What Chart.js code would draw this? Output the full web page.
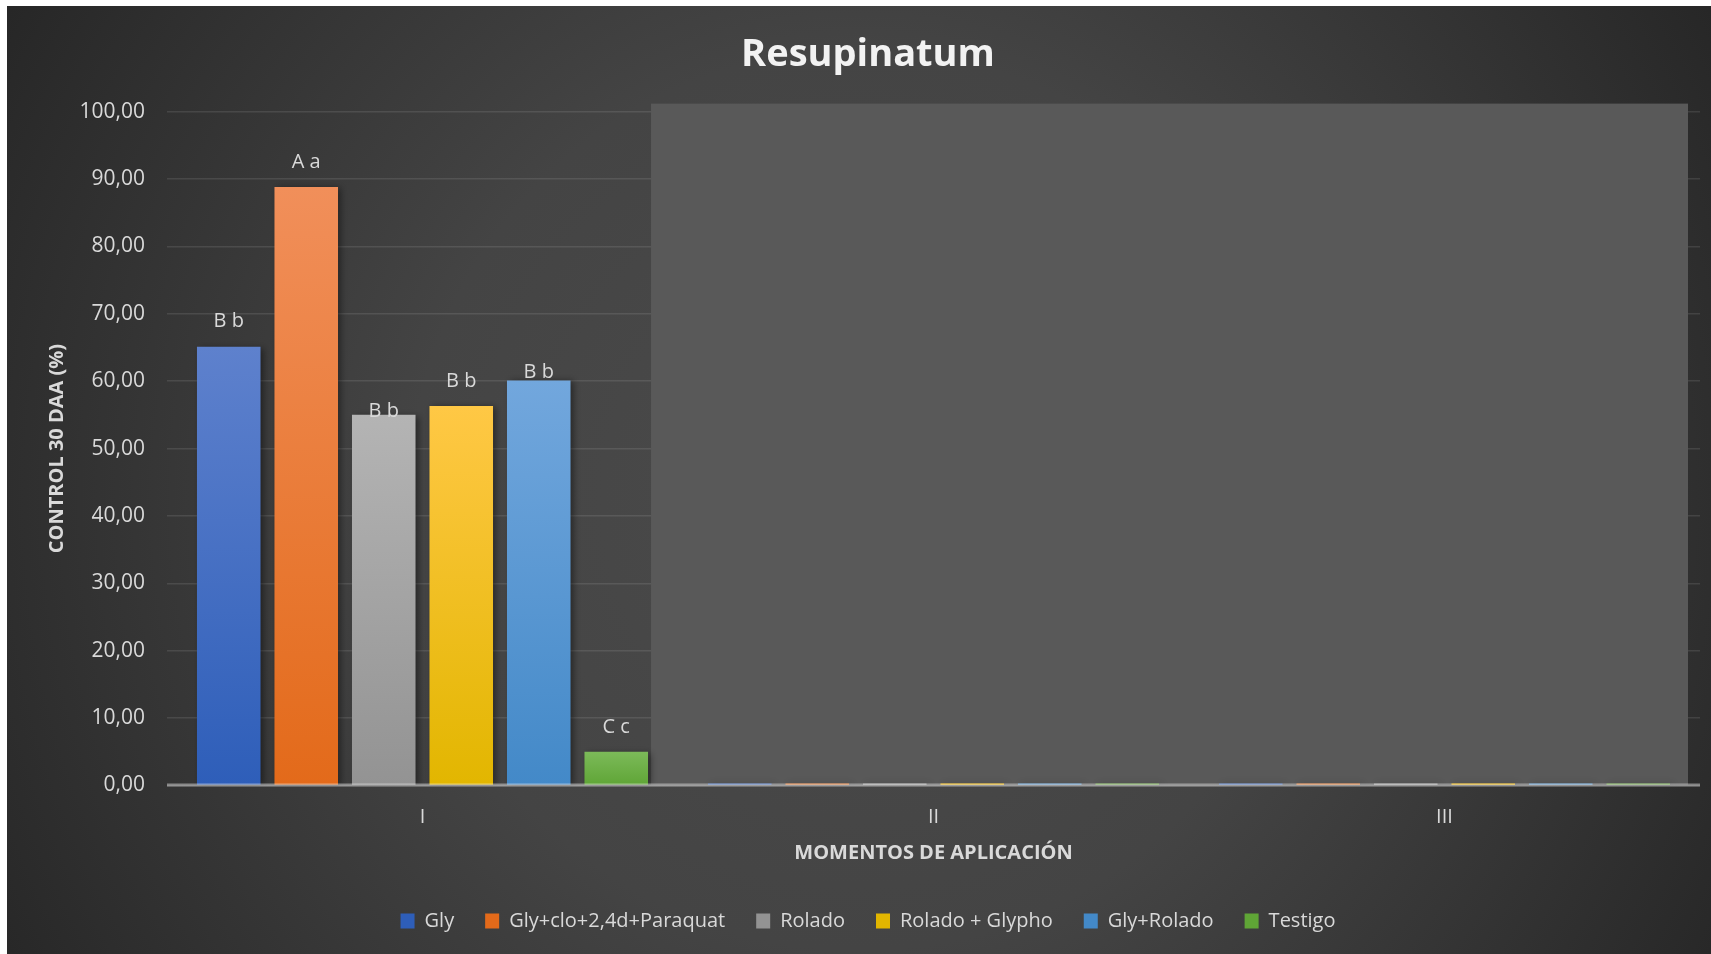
<!DOCTYPE html>
<html>
<head>
<meta charset="utf-8">
<title>Resupinatum</title>
<script src="https://cdn.jsdelivr.net/npm/chart.js@4.4.1/dist/chart.umd.min.js"></script>
<style>
  html, body { margin: 0; padding: 0; background: #ffffff; overflow: hidden; }
  #wrap { width: 1711px; height: 954px; position: relative; }
  canvas { display: block; }
</style>
</head>
<body>
<div id="wrap"><canvas id="chart" width="1711" height="954"></canvas></div>
<script>
// ---- Data ----
const categories = ['I', 'II', 'III'];
const seriesNames = ['Gly', 'Gly+clo+2,4d+Paraquat', 'Rolado', 'Rolado + Glypho', 'Gly+Rolado', 'Testigo'];
const gly            = [65.1, 0, 0];
const glyCloParaquat = [88.8, 0, 0];
const rolado         = [55.0, 0, 0];
const roladoGlypho   = [56.3, 0, 0];
const glyRolado      = [60.1, 0, 0];
const testigo        = [5.0, 0, 0];
const lettersI       = ['B b', 'A a', 'B b', 'B b', 'B b', 'C c'];
const yMin = 0, yMax = 100, yStep = 10;

// ---- Styles ----
const palette = [
  { base: '#4472c4', top: '#5e81cd', bottom: '#2e5eb9' },
  { base: '#ed7d31', top: '#f18f5a', bottom: '#e36a1a' },
  { base: '#a5a5a5', top: '#b4b4b4', bottom: '#939393' },
  { base: '#ffc000', top: '#ffc845', bottom: '#e2b600' },
  { base: '#5b9bd5', top: '#72a7dd', bottom: '#4389c8' },
  { base: '#70ad47', top: '#7cba59', bottom: '#5fa536' }
];
const seriesValues = [gly, glyCloParaquat, rolado, roladoGlypho, glyRolado, testigo];

function barFill(p) {
  return (ctx) => {
    const chart = ctx.chart;
    if (!chart.chartArea || ctx.type !== 'data') return p.base;
    const ys = chart.scales.y;
    const yTop = ys.getPixelForValue(ctx.raw);
    const yBot = ys.getPixelForValue(0);
    if (Math.abs(yBot - yTop) < 4) return p.base;
    const g = chart.ctx.createLinearGradient(0, yTop, 0, yBot);
    g.addColorStop(0, p.top);
    g.addColorStop(1, p.bottom);
    return g;
  };
}

const datasets = seriesNames.map((name, i) => ({
  label: name,
  data: seriesValues[i],
  backgroundColor: barFill(palette[i]),
  borderWidth: 0,
  minBarLength: 2,
  categoryPercentage: 0.91,
  barPercentage: 0.82
}));

const FONT = 'Open Sans';
const TXT = '#d9d9d9';

const backgroundPlugin = {
  id: 'bg',
  beforeDraw(chart) {
    const c = chart.ctx, w = chart.width, h = chart.height;
    c.save();
    c.fillStyle = '#ffffff';
    c.fillRect(0, 0, w, h);
    const g = c.createRadialGradient(860, 500, 0, 860, 500, 1000);
    g.addColorStop(0, '#4b4b4b');
    g.addColorStop(0.45, '#444444');
    g.addColorStop(1, '#262626');
    c.fillStyle = g;
    c.fillRect(7, 6, w - 7, h - 6);
    c.restore();
  }
};

const overlayPlugin = {
  id: 'overlayRect',
  beforeDatasetsDraw(chart) {
    const c = chart.ctx, ys = chart.scales.y;
    const last = chart.getDatasetMeta(datasets.length - 1).data[0];
    const left = last.x + last.width / 2 + 3;
    const right = chart.chartArea.right - 12;
    const top = ys.getPixelForValue(yMax) - 8;
    const bottom = ys.getPixelForValue(0) - 1;
    c.save();
    c.fillStyle = '#595959';
    c.fillRect(left, top, right - left, bottom - top);
    c.restore();
  }
};

const shadowPlugin = {
  id: 'barShadow',
  beforeDatasetDraw(chart) {
    const c = chart.ctx;
    c.save();
    c.shadowColor = 'rgba(0,0,0,0.45)';
    c.shadowBlur = 7;
    c.shadowOffsetX = 3;
    c.shadowOffsetY = 1;
  },
  afterDatasetDraw(chart) {
    chart.ctx.restore();
  }
};

const axisAndLabelsPlugin = {
  id: 'axisAndLabels',
  afterDatasetsDraw(chart, args, opts) {
    const c = chart.ctx, ys = chart.scales.y, area = chart.chartArea;
    const y0 = ys.getPixelForValue(0);
    c.save();
    c.strokeStyle = 'rgba(255,255,255,0.42)';
    c.lineWidth = 3;
    c.beginPath();
    c.moveTo(area.left, y0 - 0.5);
    c.lineTo(area.right, y0 - 0.5);
    c.stroke();
    // data letter labels on category I
    c.fillStyle = TXT;
    c.font = `20px "${FONT}"`;
    c.textAlign = 'center';
    c.textBaseline = 'middle';
    datasets.forEach((ds, i) => {
      const el = chart.getDatasetMeta(i).data[0];
      const nudge = (opts.nudge && opts.nudge[i]) || 0;
      c.fillText(lettersI[i], el.x, el.y - 25 + nudge);
    });
    c.restore();
  }
};

new Chart(document.getElementById('chart'), {
  type: 'bar',
  data: { labels: categories, datasets },
  plugins: [backgroundPlugin, overlayPlugin, shadowPlugin, axisAndLabelsPlugin],
  options: {
    responsive: false,
    animation: false,
    devicePixelRatio: 1,
    layout: { padding: { left: 36, right: 11, top: 0, bottom: 13 } },
    plugins: {
      axisAndLabels: { nudge: { 2: 21, 4: 17 } },
      title: {
        display: true,
        text: 'Resupinatum',
        color: '#f2f2f2',
        font: { family: FONT, size: 38, weight: 'bold' },
        padding: { top: 32, bottom: 34 }
      },
      legend: {
        position: 'bottom',
        labels: {
          color: TXT,
          font: { family: FONT, size: 20 },
          boxWidth: 14,
          boxHeight: 15,
          padding: 31
        }
      },
      tooltip: { enabled: false }
    },
    scales: {
      x: {
        grid: { display: false },
        border: { display: false },
        ticks: { color: TXT, font: { family: FONT, size: 20 }, padding: 12 },
        title: {
          display: true,
          text: 'MOMENTOS DE APLICACIÓN',
          color: TXT,
          font: { family: FONT, size: 20, weight: 'bold' },
          padding: { top: 0, bottom: 15 }
        },
        afterFit(s) { s.height = 94.5; }
      },
      y: {
        min: yMin,
        max: yMax,
        ticks: {
          stepSize: yStep,
          color: TXT,
          font: { family: FONT, size: 21 },
          padding: 22,
          callback: (v) => Number(v).toFixed(2).replace('.', ',')
        },
        grid: { color: 'rgba(255,255,255,0.10)', lineWidth: 1.5, drawTicks: false },
        border: { display: false },
        title: {
          display: true,
          text: 'CONTROL 30 DAA (%)',
          color: TXT,
          font: { family: FONT, size: 20, weight: 'bold' },
          padding: { top: 9, bottom: 0 }
        },
        afterFit(s) { s.width = 131; }
      }
    }
  }
});
</script>
</body>
</html>
